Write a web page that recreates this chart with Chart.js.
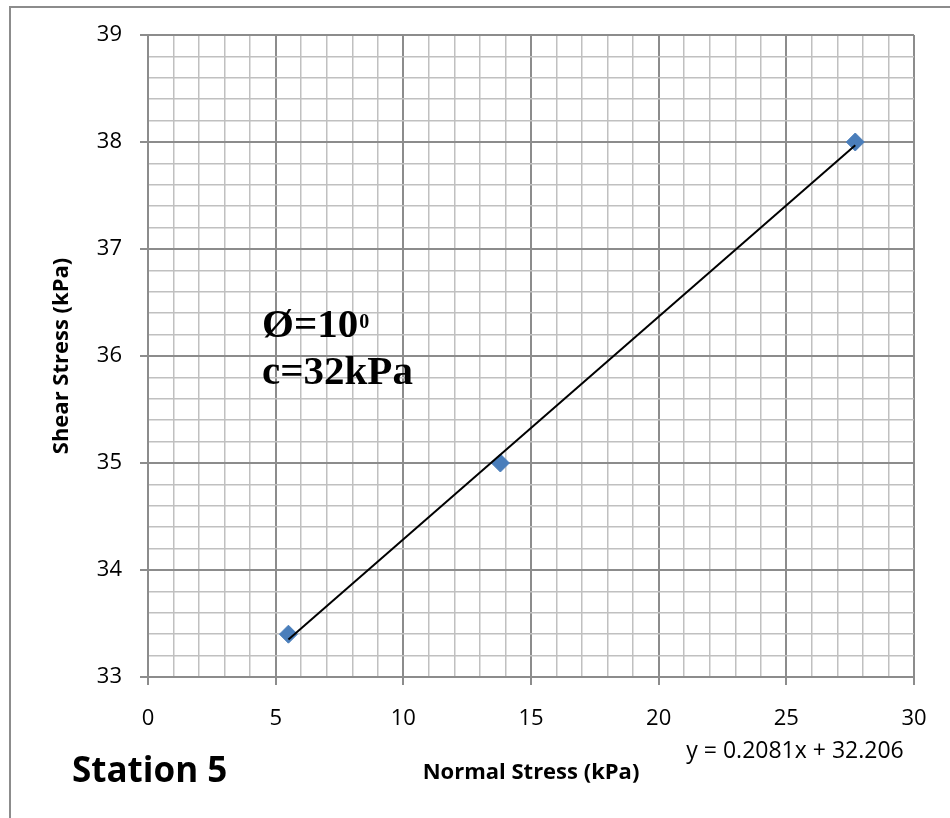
<!DOCTYPE html>
<html>
<head>
<meta charset="utf-8">
<script src="https://cdn.jsdelivr.net/npm/chart.js@4/dist/chart.umd.min.js"></script>
<style>
  html, body { margin: 0; padding: 0; background: #fff; }
  #wrap { width: 950px; height: 818px; position: relative; }
</style>
</head>
<body>
<div id="wrap"><canvas id="chart" width="950" height="818"></canvas></div>
<script>
// 数据：从图上读出来的点
const normalStress = [5.5, 13.8, 27.7];
const shearStress = [33.4, 35, 38];
// 趋势线两端 (y = 0.2081x + 32.206)
const trendX = [5.5, 27.7];
const trendY = [33.35, 37.97];
const xTicks = [0, 5, 10, 15, 20, 25, 30];
const yTicks = [33, 34, 35, 36, 37, 38, 39];

const tickFont = { family: '"Open Sans", sans-serif', size: 22 };
const titleFont = { family: '"Open Sans", sans-serif', size: 22, weight: 'bold' };

function isMajor(v, step) {
    const r = v / step;
    return Math.abs(r - Math.round(r)) < 1e-6;
}

// 左上角的边框和文字标注
const extras = {
    id: 'extras',
    beforeDraw(chart) {
        const ctx = chart.ctx;
        ctx.save();
        ctx.fillStyle = '#fff';
        ctx.fillRect(0, 0, chart.width, chart.height);
        ctx.strokeStyle = '#8c8c8c';
        ctx.lineWidth = 2;
        ctx.beginPath();
        ctx.moveTo(10, 818);
        ctx.lineTo(10, 7);
        ctx.lineTo(950, 7);
        ctx.stroke();
        ctx.restore();
    },
    afterDraw(chart) {
        const ctx = chart.ctx;
        ctx.save();
        ctx.fillStyle = '#000';
        ctx.textBaseline = 'alphabetic';
        ctx.font = 'bold 41px "Liberation Serif", "Times New Roman", serif';
        ctx.fillText('Ø=10', 262, 337);
        const w = ctx.measureText('Ø=10').width;
        ctx.font = 'bold 20px "Liberation Serif", "Times New Roman", serif';
        ctx.fillText('0', 262 + w + 1, 328);
        ctx.font = 'bold 41px "Liberation Serif", "Times New Roman", serif';
        ctx.fillText('c=32kPa', 262, 384);

        ctx.font = 'bold 35px "Open Sans", sans-serif';
        ctx.fillText('Station 5', 72, 782);

        ctx.font = '23px "Open Sans", sans-serif';
        ctx.textAlign = 'center';
        ctx.fillText('y = 0.2081x + 32.206', 795, 758);
        ctx.restore();
    }
};

new Chart(document.getElementById('chart'), {
    type: 'scatter',
    data: {
        datasets: [{
            label: 'trend',
            type: 'line',
            data: trendX.map((x, i) => ({ x: x, y: trendY[i] })),
            borderColor: '#000',
            borderWidth: 2,
            pointRadius: 0,
            fill: false,
            order: 0
        }, {
            label: 'Station 5',
            data: normalStress.map((x, i) => ({ x: x, y: shearStress[i] })),
            pointStyle: 'rectRot',
            pointRadius: 9,
            pointHoverRadius: 9,
            backgroundColor: '#4a7ebb',
            borderColor: '#4a7ebb',
            borderWidth: 1,
            order: 1
        }]
    },
    options: {
        responsive: false,
        animation: false,
        events: [],
        layout: { padding: { left: 0, right: 36, top: 35, bottom: 0 } },
        plugins: { legend: { display: false }, tooltip: { enabled: false } },
        scales: {
            x: {
                type: 'linear',
                min: 0,
                max: 30,
                afterFit(scale) { scale.height = 141; },
                afterBuildTicks(scale) {
                    const t = [];
                    for (let v = xTicks[0]; v <= xTicks[xTicks.length - 1]; v += 1) t.push({ value: v });
                    scale.ticks = t;
                },
                ticks: {
                    autoSkip: false,
                    maxRotation: 0,
                    padding: 21,
                    color: '#000',
                    font: tickFont,
                    callback: v => xTicks.includes(v) ? String(v) : ''
                },
                grid: {
                    color: c => isMajor(c.tick.value, 5) ? '#8c8c8c' : '#c0c0c0',
                    lineWidth: c => isMajor(c.tick.value, 5) ? 2 : 1.5,
                    tickLength: 8,
                    tickColor: c => isMajor(c.tick.value, 5) ? '#8c8c8c' : 'rgba(0,0,0,0)'
                },
                border: { color: '#8c8c8c', width: 2 },
                title: {
                    display: true,
                    text: 'Normal Stress (kPa)',
                    color: '#000',
                    font: titleFont,
                    padding: { top: 0, bottom: 32 }
                }
            },
            y: {
                type: 'linear',
                min: 33,
                max: 39,
                afterFit(scale) { scale.width = 148; },
                afterBuildTicks(scale) {
                    const t = [];
                    for (let i = 0; i <= 30; i++) t.push({ value: +(33 + i * 0.2).toFixed(1) });
                    scale.ticks = t;
                },
                ticks: {
                    autoSkip: false,
                    padding: 18,
                    color: '#000',
                    font: tickFont,
                    callback: v => yTicks.includes(v) ? String(v) : ''
                },
                grid: {
                    color: c => isMajor(c.tick.value, 1) ? '#8c8c8c' : '#c0c0c0',
                    lineWidth: c => isMajor(c.tick.value, 1) ? 2 : 1.5,
                    tickLength: 8,
                    tickColor: c => isMajor(c.tick.value, 1) ? '#8c8c8c' : 'rgba(0,0,0,0)'
                },
                border: { color: '#8c8c8c', width: 2 },
                title: {
                    display: true,
                    text: 'Shear Stress (kPa)',
                    color: '#000',
                    font: titleFont,
                    padding: { top: 49, bottom: 0 }
                }
            }
        }
    },
    plugins: [extras]
});
</script>
</body>
</html>
